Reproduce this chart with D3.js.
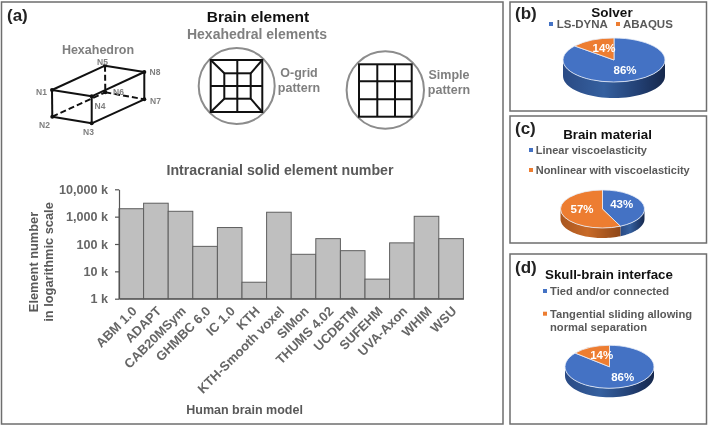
<html>

<head>
    <meta charset="UTF-8">
    <title>Brain element</title>
    <style>
        body {
            margin: 0;
            background: #fff;
        }

        svg {
            filter: blur(0.35px);
        }

        text {
            font-family: "Liberation Sans", Arial, sans-serif;
            font-weight: bold;
        }

        .panel {
            fill: none;
            stroke: #6e6e6e;
            stroke-width: 1.5;
        }

        .tag {
            font-size: 17px;
            fill: #222;
        }

        .head {
            fill: #111;
            text-anchor: middle;
        }

        .grey {
            fill: #7f7f7f;
        }

        .dark {
            fill: #595959;
        }

        .wire {
            stroke: #111;
            stroke-width: 2;
            fill: none;
        }

        .ring {
            stroke: #8c8c8c;
            stroke-width: 2;
            fill: none;
        }

        .axis path,
        .axis line {
            stroke: #555;
            stroke-width: 1.2;
        }

        .axis text {
            font-size: 13px;
            fill: #666;
        }

        .axis.left text {
            font-size: 12.6px;
        }

        .pct {
            fill: #fff;
            font-size: 11.5px;
            text-anchor: middle;
        }
    </style>
    <script src="https://d3js.org/d3.v7.min.js"></script>
</head>

<body>
    <script type="text/javascript">
        // element counts in thousands
        const models = ['ABM 1.0', 'ADAPT', 'CAB20MSym', 'GHMBC 6.0', 'IC 1.0', 'KTH', 'KTH-Smooth voxel', 'SIMon',
            'THUMS 4.02', 'UCDBTM', 'SUFEHM', 'UVA-Axon', 'WHIM', 'WSU']
        const elementCounts = [1950, 3100, 1570, 82, 400, 4, 1450, 42, 157, 57, 5.2, 110, 1030, 157]
        const logTicks = [1, 10, 100, 1000, 10000]

        const solverNames = ['LS-DYNA', 'ABAQUS']
        const solverShare = [86, 14]
        const materialNames = ['Linear viscoelasticity', 'Nonlinear with viscoelasticity']
        const materialShare = [43, 57]
        const interfaceNames = ['Tied and/or connected', 'Tangential sliding allowing', 'normal separation']
        const interfaceShare = [86, 14]

        const BLUE = '#4472c4'
        const ORANGE = '#ed7d31'

        const svg = d3.select('body').append('svg')
            .attr('width', 708)
            .attr('height', 426)

        const defs = svg.append('defs')

        function wallGradient(id, stops) {
            const g = defs.append('linearGradient').attr('id', id)
            stops.forEach(function (s) {
                g.append('stop').attr('offset', s[0]).attr('stop-color', s[1])
            })
        }
        wallGradient('wallBlue', [[0, '#2a4a84'], [0.4, '#35609f'], [0.75, '#223f72'], [1, '#16284c']])
        wallGradient('wallOrange', [[0, '#a8561f'], [0.45, '#c86a28'], [1, '#8f4718']])

        // panel frames
        const frames = [[1.5, 2, 501.5, 422], [510, 2, 196.5, 109], [510, 116, 196.5, 127], [510, 254, 196.5, 170]]
        svg.selectAll('rect.panel').data(frames).enter().append('rect')
            .attr('class', 'panel')
            .attr('x', function (d) { return d[0] })
            .attr('y', function (d) { return d[1] })
            .attr('width', function (d) { return d[2] })
            .attr('height', function (d) { return d[3] })

        function label(txt, x, y, cls, size, anchor) {
            return svg.append('text')
                .attr('class', cls)
                .attr('x', x)
                .attr('y', y)
                .attr('font-size', size)
                .attr('text-anchor', anchor || 'middle')
                .text(txt)
        }

        label('(a)', 7, 21, 'tag', null, 'start')
        label('(b)', 515, 19, 'tag', null, 'start')
        label('(c)', 515, 134, 'tag', null, 'start')
        label('(d)', 515, 273, 'tag', null, 'start')

        label('Brain element', 258, 22, 'head', 15.5)
        label('Hexahedral elements', 257, 39, 'grey', 14)
        label('Hexahedron', 98, 54, 'grey', 12.5)
        label('O-grid', 299, 77, 'grey', 12.5)
        label('pattern', 299, 92, 'grey', 12.5)
        label('Simple', 449, 79, 'grey', 12.5)
        label('pattern', 449, 94, 'grey', 12.5)

        // hexahedron schematic
        const nodes = {
            N1: [52, 90], N2: [52.3, 116.7], N3: [91.7, 123.3], N4: [91.7, 96.3],
            N5: [105, 65.7], N6: [105.3, 92.3], N7: [144.3, 99.3], N8: [144.3, 72]
        }
        const solidEdges = [['N1', 'N4'], ['N4', 'N3'], ['N3', 'N7'], ['N7', 'N8'], ['N8', 'N5'], ['N5', 'N1'],
            ['N1', 'N2'], ['N2', 'N3'], ['N4', 'N8']]
        const dashEdges = [['N2', 'N6'], ['N6', 'N7'], ['N5', 'N6']]
        const nodeLabels = {
            N1: [41.5, 94.5], N2: [44.5, 127.5], N3: [88.5, 135], N4: [100, 108.5],
            N5: [102.5, 65], N6: [118.5, 95], N7: [155.5, 103.5], N8: [155, 75]
        }

        function edges(list, dashed) {
            svg.selectAll(null).data(list).enter().append('line')
                .attr('class', 'wire')
                .attr('stroke-dasharray', dashed ? '6 3' : null)
                .attr('x1', function (d) { return nodes[d[0]][0] })
                .attr('y1', function (d) { return nodes[d[0]][1] })
                .attr('x2', function (d) { return nodes[d[1]][0] })
                .attr('y2', function (d) { return nodes[d[1]][1] })
        }
        edges(solidEdges, false)
        edges(dashEdges, true)

        svg.selectAll(null).data(Object.keys(nodes)).enter().append('circle')
            .attr('cx', function (d) { return nodes[d][0] })
            .attr('cy', function (d) { return nodes[d][1] })
            .attr('r', 2)
            .attr('fill', '#111')

        Object.keys(nodeLabels).forEach(function (k) {
            label(k, nodeLabels[k][0], nodeLabels[k][1], 'grey', 8.5)
        })

        // mesh circles
        function seg(x1, y1, x2, y2) {
            svg.append('line').attr('class', 'wire')
                .attr('x1', x1).attr('y1', y1).attr('x2', x2).attr('y2', y2)
        }

        function square(x0, y0, x1, y1) {
            svg.append('rect').attr('class', 'wire')
                .attr('x', x0).attr('y', y0).attr('width', x1 - x0).attr('height', y1 - y0)
        }

        svg.append('circle').attr('class', 'ring').attr('cx', 236.7).attr('cy', 86).attr('r', 38)
        svg.append('circle').attr('class', 'ring').attr('cx', 385.3).attr('cy', 90).attr('r', 38.7)

        square(210.7, 60, 262.3, 112)
        square(224.3, 73.3, 250.7, 98.7)
        seg(237.3, 60, 237.3, 112)
        seg(210.7, 86, 262.3, 86)
        seg(210.7, 60, 224.3, 73.3)
        seg(262.3, 60, 250.7, 73.3)
        seg(210.7, 112, 224.3, 98.7)
        seg(262.3, 112, 250.7, 98.7)

        square(359, 64.3, 411.7, 116.7)
        seg(377.3, 64.3, 377.3, 116.7)
        seg(395, 64.3, 395, 116.7)
        seg(359, 81.3, 411.7, 81.3)
        seg(359, 99.3, 411.7, 99.3)

        // bar chart
        label('Intracranial solid element number', 280, 175, 'dark', 14.2)

        const x_scale = d3.scaleBand().domain(models).range([119, 463.4])
        const y_scale = d3.scaleLog().domain([1, 10000]).range([298.7, 189.3])

        svg.selectAll('rect.bar').data(elementCounts).enter().append('rect')
            .attr('class', 'bar')
            .attr('x', function (d, i) { return x_scale(models[i]) })
            .attr('y', function (d) { return y_scale(d) })
            .attr('width', x_scale.bandwidth())
            .attr('height', function (d) { return y_scale(1) - y_scale(d) })
            .attr('fill', '#bfbfbf')
            .attr('stroke', '#5f5f5f')
            .attr('stroke-width', 1)

        svg.append('g')
            .attr('class', 'axis left')
            .attr('transform', 'translate(119,0)')
            .call(d3.axisLeft(y_scale)
                .tickValues(logTicks)
                .tickSize(4)
                .tickSizeOuter(0)
                .tickPadding(7)
                .tickFormat(function (d) { return d3.format(',')(d) + ' k' }))

        const xAxis = svg.append('g')
            .attr('class', 'axis')
            .attr('transform', 'translate(0,298.7)')
            .call(d3.axisBottom(x_scale).tickSize(0).tickSizeOuter(0))
        xAxis.selectAll('text')
            .attr('text-anchor', 'end')
            .attr('transform', 'translate(3,10) rotate(-45)')
            .attr('x', 0)
            .attr('y', 0)
            .attr('dy', '0.35em')

        svg.append('text').attr('class', 'dark')
            .attr('font-size', 12.8).attr('text-anchor', 'middle')
            .attr('transform', 'translate(38,262) rotate(-90)').text('Element number')
        svg.append('text').attr('class', 'dark')
            .attr('font-size', 12.8).attr('text-anchor', 'middle')
            .attr('transform', 'translate(53,262) rotate(-90)').text('in logarithmic scale')
        label('Human brain model', 244.6, 414, 'dark', 12.5)

        // 3D pies: flat d3.arc squashed into an ellipse plus a side wall under the front half
        function pie3d(share, cx, cy, rx, ry, depth, pctPos) {
            const colors = [BLUE, ORANGE]
            const walls = ['url(#wallBlue)', 'url(#wallOrange)']
            const slices = d3.pie().sort(null)(share)
            const g = svg.append('g').attr('transform', 'translate(' + cx + ',' + cy + ')')

            slices.forEach(function (s, i) {
                const a0 = Math.max(s.startAngle, Math.PI / 2)
                const a1 = Math.min(s.endAngle, 3 * Math.PI / 2)
                if (a1 <= a0) return
                const rim = d3.range(0, 41).map(function (k) {
                    const a = a0 + (a1 - a0) * k / 40
                    return [rx * Math.sin(a), -ry * Math.cos(a)]
                })
                const wall = rim.concat(rim.slice().reverse().map(function (p) { return [p[0], p[1] + depth] }))
                g.append('path')
                    .attr('d', d3.line()(wall) + 'Z')
                    .attr('fill', walls[i])
                    .attr('stroke', 'none')
            })

            const arc = d3.arc().innerRadius(0).outerRadius(1)
            g.selectAll(null).data(slices).enter().append('path')
                .attr('d', arc)
                .attr('transform', 'scale(' + rx + ',' + ry + ')')
                .attr('fill', function (d, i) { return colors[i] })
                .attr('stroke', '#e8eef8')
                .attr('stroke-width', 0.8)
                .attr('vector-effect', 'non-scaling-stroke')

            share.forEach(function (v, i) {
                svg.append('text').attr('class', 'pct')
                    .attr('x', pctPos[i][0]).attr('y', pctPos[i][1])
                    .text(v + '%')
            })
        }

        function legendKey(x, y, color) {
            svg.append('rect').attr('x', x).attr('y', y - 2).attr('width', 4).attr('height', 4).attr('fill', color)
        }

        // (b)
        label('Solver', 612, 17, 'head', 13.5)
        legendKey(549, 24, BLUE)
        label(solverNames[0], 556.7, 28, 'dark', 11.5, 'start')
        legendKey(616, 24, ORANGE)
        label(solverNames[1], 623, 28, 'dark', 11.5, 'start')
        pie3d(solverShare, 614, 60, 51, 22, 16, [[625, 74], [604, 52]])

        // (c)
        label('Brain material', 607.5, 139, 'head', 13.3)
        legendKey(529, 150, BLUE)
        label(materialNames[0], 535.7, 153.7, 'dark', 11, 'start')
        legendKey(529, 170, ORANGE)
        label(materialNames[1], 535.7, 174, 'dark', 11, 'start')
        pie3d(materialShare, 602.5, 209, 42, 19, 10, [[621.7, 208], [582, 212.7]])

        // (d)
        label('Skull-brain interface', 609, 278.7, 'head', 13.3)
        legendKey(543, 291, BLUE)
        label(interfaceNames[0], 550, 294.7, 'dark', 11.2, 'start')
        legendKey(543, 313.7, ORANGE)
        label(interfaceNames[1], 550, 318, 'dark', 11.2, 'start')
        label(interfaceNames[2], 550, 330.7, 'dark', 11.2, 'start')
        pie3d(interfaceShare, 609.5, 366.8, 44.5, 21.5, 9, [[622.7, 381], [601.7, 359]])
    </script>
</body>

</html>
